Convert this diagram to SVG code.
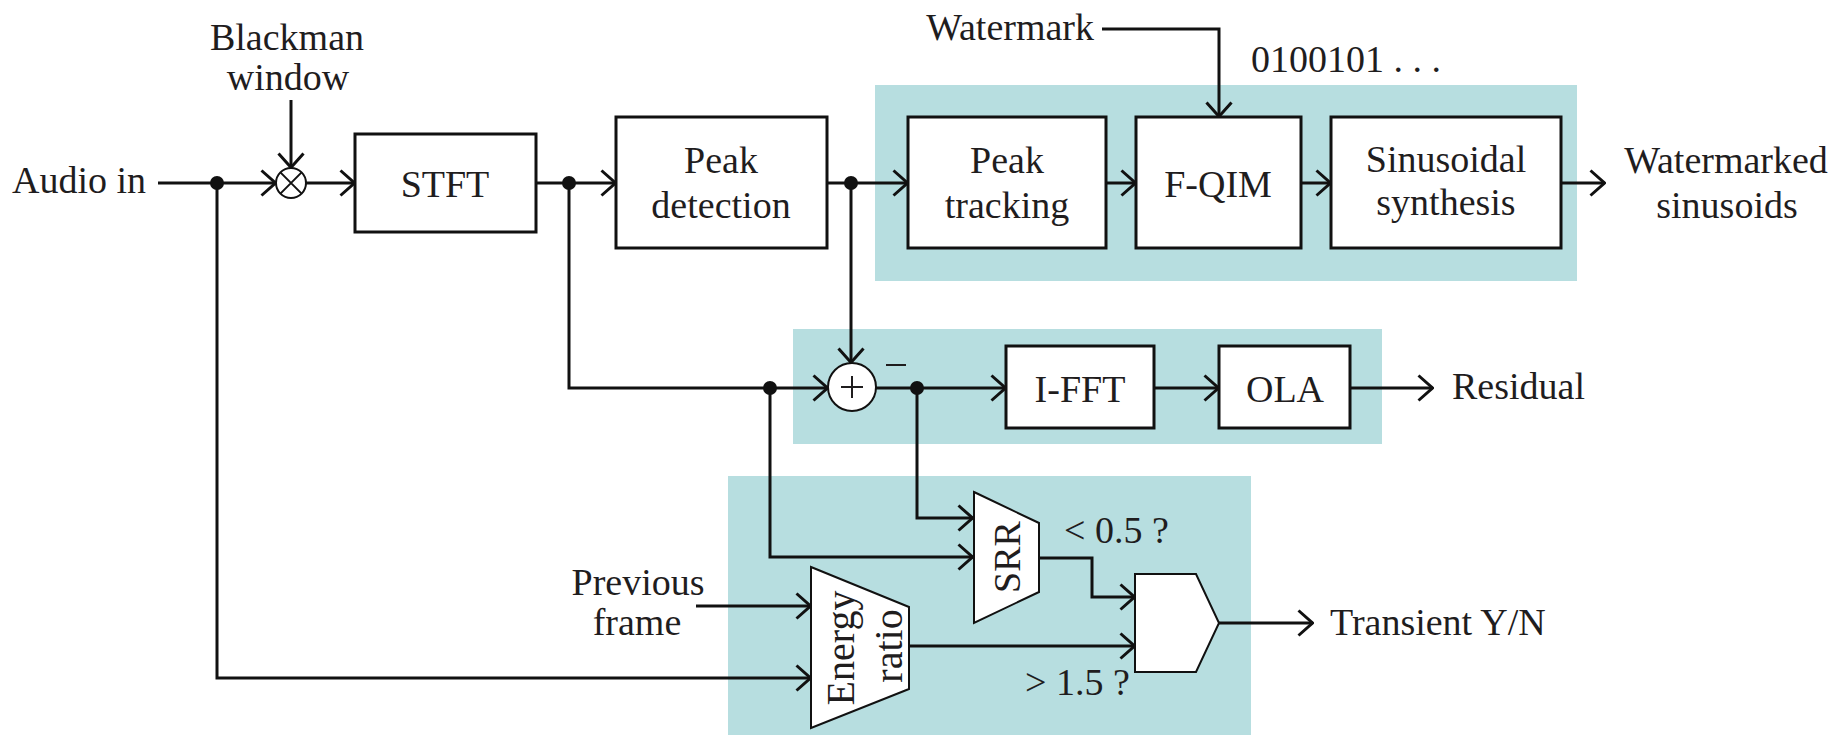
<svg xmlns="http://www.w3.org/2000/svg" width="1844" height="735" viewBox="0 0 1844 735">
<defs>
<style>
.t{font-family:"Liberation Serif","Times New Roman",serif;font-size:38px;fill:#1f1d1e}
.c{text-anchor:middle}
.box{fill:#fff;stroke:#111;stroke-width:3}
.thin{fill:#fff;stroke:#111;stroke-width:2}
.w{fill:none;stroke:#111;stroke-width:3}
.bg{fill:#b7dee0}
.dot{fill:#111}
</style>
<marker id="a" markerUnits="userSpaceOnUse" viewBox="0 0 17 28" refX="16" refY="14" markerWidth="17" markerHeight="28" orient="auto">
<path d="M1.5,1.5 L15.5,14 L1.5,26.5" fill="none" stroke="#111" stroke-width="3"/>
</marker>
</defs>
<rect width="1844" height="735" fill="#fff"/>
<g id="groups">
<rect class="bg" x="875" y="85" width="702" height="196"/>
<rect class="bg" x="793" y="329" width="589" height="115"/>
<rect class="bg" x="728" y="476" width="523" height="259"/>
</g>
<g id="connectors">
<path class="w" d="M158,183 H276" marker-end="url(#a)"/>
<path class="w" d="M291,100 V168" marker-end="url(#a)"/>
<path class="w" d="M306,183 H355" marker-end="url(#a)"/>
<path class="w" d="M536,183 H616" marker-end="url(#a)"/>
<path class="w" d="M827,183 H908" marker-end="url(#a)"/>
<path class="w" d="M1106,183 H1136" marker-end="url(#a)"/>
<path class="w" d="M1301,183 H1331" marker-end="url(#a)"/>
<path class="w" d="M1561,183 H1605" marker-end="url(#a)"/>
<path class="w" d="M1102,29 H1219 V117" marker-end="url(#a)"/>
<path class="w" d="M569,183 V388 H828" marker-end="url(#a)"/>
<path class="w" d="M851,183 V363" marker-end="url(#a)"/>
<path class="w" d="M876,388 H1006" marker-end="url(#a)"/>
<path class="w" d="M1154,388 H1219" marker-end="url(#a)"/>
<path class="w" d="M1350,388 H1433" marker-end="url(#a)"/>
<path class="w" d="M770,388 V557 H973" marker-end="url(#a)"/>
<path class="w" d="M917,388 V518 H973" marker-end="url(#a)"/>
<path class="w" d="M1039,558 H1092 V597 H1135" marker-end="url(#a)"/>
<path class="w" d="M696,606 H811" marker-end="url(#a)"/>
<path class="w" d="M217,183 V678 H811" marker-end="url(#a)"/>
<path class="w" d="M909,646 H1135" marker-end="url(#a)"/>
<path class="w" d="M1219,623 H1313" marker-end="url(#a)"/>
<circle class="dot" cx="217" cy="183" r="7"/>
<circle class="dot" cx="569" cy="183" r="7"/>
<circle class="dot" cx="851" cy="183" r="7"/>
<circle class="dot" cx="770" cy="388" r="7"/>
<circle class="dot" cx="917" cy="388" r="7"/>
</g>
<g id="labels">
<text class="t c" x="287" y="50">Blackman</text>
<text class="t c" x="288" y="90">window</text>
<text class="t" x="12" y="193">Audio in</text>
<text class="t" x="1094" y="40" text-anchor="end">Watermark</text>
<text class="t" x="1251" y="72">0100101 . . .</text>
<text class="t c" x="1726" y="173">Watermarked</text>
<text class="t c" x="1727" y="218">sinusoids</text>
<text class="t" x="1452" y="399">Residual</text>
<text class="t c" x="638" y="595">Previous</text>
<text class="t c" x="637" y="635">frame</text>
<text class="t" x="1064" y="543">&lt; 0.5 ?</text>
<text class="t" x="1025" y="695">&gt; 1.5 ?</text>
<text class="t" x="1330" y="635">Transient Y/N</text>
</g>
<g id="mult">
<circle class="thin" cx="291" cy="183" r="15"/>
<path d="M280.4,172.4 L301.6,193.6 M301.6,172.4 L280.4,193.6" stroke="#111" stroke-width="2"/>
</g>
<g id="stft"><rect class="box" x="355" y="134" width="181" height="98"/><text class="t c" x="445" y="197">STFT</text></g>
<g id="peakdet"><rect class="box" x="616" y="117" width="211" height="131"/><text class="t c" x="721" y="173">Peak</text><text class="t c" x="721" y="218">detection</text></g>
<g id="peaktrack"><rect class="box" x="908" y="117" width="198" height="131"/><text class="t c" x="1007" y="173">Peak</text><text class="t c" x="1007" y="218">tracking</text></g>
<g id="fqim"><rect class="box" x="1136" y="117" width="165" height="131"/><text class="t c" x="1218" y="197">F-QIM</text></g>
<g id="synth"><rect class="box" x="1331" y="117" width="230" height="131"/><text class="t c" x="1446" y="172">Sinusoidal</text><text class="t c" x="1446" y="215">synthesis</text></g>
<g id="sum"><circle class="thin" cx="852" cy="387" r="24"/><path d="M841,387 H863 M852,376 V398" stroke="#1f1d1e" stroke-width="2"/><path d="M886,365 H906" stroke="#1f1d1e" stroke-width="2"/></g>
<g id="ifft"><rect class="box" x="1006" y="346" width="148" height="82"/><text class="t c" x="1080" y="402">I-FFT</text></g>
<g id="ola"><rect class="box" x="1219" y="346" width="131" height="82"/><text class="t c" x="1285" y="402">OLA</text></g>
<g id="srr"><path class="thin" d="M974,492 L1039,523 V592 L974,623 Z"/><text class="t c" transform="translate(1020,557) rotate(-90)" x="0" y="0">SRR</text></g>
<g id="energy"><path class="thin" d="M811,567 L909,607 V689 L811,728 Z"/><text class="t c" style="font-size:40px" transform="translate(854,648) rotate(-90)" x="0" y="0">Energy</text><text class="t c" style="font-size:40px" transform="translate(902,646) rotate(-90)" x="0" y="0">ratio</text></g>
<g id="gate"><path class="thin" d="M1135,574 H1196 L1219,623 L1196,672 H1135 Z"/></g>
</svg>
